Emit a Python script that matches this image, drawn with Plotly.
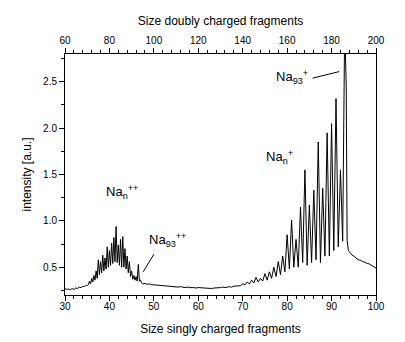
import plotly.graph_objects as go

# ---- data ----
# baseline left of the doubly charged cluster
x_a = [30.0, 30.4, 30.8, 31.2, 31.6, 32.0, 32.4, 32.8, 33.2, 33.6, 34.0, 34.4, 34.8, 35.0]
y_a = [0.27, 0.26, 0.265, 0.255, 0.27, 0.26, 0.275, 0.27, 0.285, 0.28, 0.295, 0.29, 0.31, 0.30]

# doubly charged cluster Na_n++ (valley / peak alternating)
x_b = [35.25, 35.5, 35.75, 36.0, 36.25, 36.5, 36.75, 37.0, 37.25, 37.5, 37.75, 38.0,
       38.25, 38.5, 38.75, 39.0, 39.25, 39.5, 39.75, 40.0, 40.25, 40.5, 40.75, 41.0,
       41.25, 41.5, 41.75, 42.0, 42.25, 42.5, 42.75, 43.0, 43.25, 43.5, 43.75, 44.0,
       44.25, 44.5, 44.75, 45.0, 45.25, 45.5, 45.75, 46.0, 46.25, 46.5, 46.75, 47.0, 47.25]
y_b = [0.31, 0.35, 0.32, 0.38, 0.34, 0.41, 0.36, 0.46, 0.38, 0.58, 0.42, 0.56,
       0.44, 0.63, 0.46, 0.60, 0.48, 0.72, 0.50, 0.68, 0.52, 0.76, 0.54, 0.82,
       0.56, 0.94, 0.55, 0.74, 0.52, 0.80, 0.50, 0.83, 0.50, 0.70, 0.48, 0.62,
       0.44, 0.56, 0.40, 0.46, 0.37, 0.41, 0.36, 0.40, 0.35, 0.53, 0.35, 0.36, 0.33]

# flat region between the two clusters
x_c = [47.5, 48.0, 48.5, 49.0, 49.5, 50.0, 51.0, 51.5, 52.0, 53.0, 53.5, 54.0, 55.0,
       55.5, 56.0, 57.0, 57.5, 58.0, 59.0, 59.5, 60.0, 61.0, 61.5, 62.0, 63.0, 63.5,
       64.0, 65.0, 65.5, 66.0, 67.0, 67.5, 68.0, 69.0]
y_c = [0.32, 0.325, 0.315, 0.32, 0.31, 0.31, 0.305, 0.30, 0.30, 0.295, 0.29, 0.29, 0.29,
       0.285, 0.29, 0.28, 0.285, 0.28, 0.28, 0.275, 0.28, 0.275, 0.27, 0.275, 0.27, 0.275,
       0.275, 0.28, 0.285, 0.28, 0.29, 0.285, 0.295, 0.30]

# singly charged cluster Na_n+ (valley / peak alternating)
x_d = [69.5, 70.0, 70.5, 71.0, 71.5, 72.0, 72.5, 73.0, 73.5, 74.0, 74.5, 75.0,
       75.5, 76.0, 76.5, 77.0, 77.5, 78.0, 78.5, 79.0, 79.5, 80.0, 80.5, 81.0,
       81.5, 82.0, 82.5, 83.0, 83.5, 84.0, 84.5, 85.0, 85.5, 86.0, 86.5, 87.0,
       87.5, 88.0, 88.5, 89.0, 89.5, 90.0, 90.5, 91.0, 91.5, 92.0, 92.5]
y_d = [0.30, 0.32, 0.31, 0.34, 0.32, 0.36, 0.33, 0.39, 0.34, 0.38, 0.35, 0.43,
       0.36, 0.45, 0.38, 0.50, 0.40, 0.56, 0.42, 0.62, 0.45, 0.85, 0.48, 1.01,
       0.50, 0.80, 0.50, 1.15, 0.55, 1.55, 0.52, 1.17, 0.55, 1.33, 0.58, 1.85,
       0.55, 1.35, 0.62, 1.95, 0.62, 2.05, 0.68, 2.32, 0.72, 1.55, 0.78]

# Na93+ peak and tail
x_e = [92.9, 93.1, 93.3, 93.5, 93.8, 94.2, 94.6, 95.0, 95.5, 96.0, 96.5, 97.0,
       97.5, 98.0, 98.5, 99.0, 99.5, 100.0]
y_e = [2.85, 2.85, 2.45, 0.79, 0.68, 0.65, 0.63, 0.62, 0.60, 0.58, 0.575, 0.56,
       0.555, 0.54, 0.535, 0.52, 0.505, 0.49]

x_vals = x_a + x_b + x_c + x_d + x_e
y_vals = y_a + y_b + y_c + y_d + y_e

bottom_ticks = [30, 40, 50, 60, 70, 80, 90, 100]
top_ticks = [60, 80, 100, 120, 140, 160, 180, 200]
y_ticks = [0.5, 1.0, 1.5, 2.0, 2.5]

FONT = "Liberation Sans, Arial, sans-serif"

fig = go.Figure()
fig.add_trace(go.Scatter(x=x_vals, y=y_vals, mode="lines",
                         line=dict(color="black", width=1), hoverinfo="skip",
                         showlegend=False))
# invisible trace to activate the top axis
fig.add_trace(go.Scatter(x=[top_ticks[0], top_ticks[-1]], y=[0.2, 0.2], xaxis="x2",
                         mode="lines", line=dict(width=0), opacity=0,
                         hoverinfo="skip", showlegend=False))

axis_common = dict(showgrid=False, zeroline=False, showline=True, linecolor="black",
                   linewidth=1, ticks="outside", ticklen=5, tickwidth=1,
                   tickcolor="black", tickfont=dict(family=FONT, size=10, color="black"))

fig.update_layout(
    width=405, height=342,
    margin=dict(l=65, r=29, t=54, b=47, autoexpand=False),
    paper_bgcolor="white", plot_bgcolor="white",
    font=dict(family=FONT, color="black"),
    xaxis=dict(range=[30, 100], tickvals=bottom_ticks, ticklabelstandoff=-3, **axis_common,
               minor=dict(dtick=2, tick0=30, ticklen=3, ticks="outside", tickcolor="black"),
               title=dict(text="Size singly charged fragments",
                          font=dict(family=FONT, size=12), standoff=13)),
    xaxis2=dict(range=[60, 200], tickvals=top_ticks, overlaying="x", side="top",
                anchor="y", **axis_common,
                minor=dict(dtick=4, tick0=60, ticklen=3, ticks="outside", tickcolor="black"),
                title=dict(text="Size doubly charged fragments",
                           font=dict(family=FONT, size=12), standoff=6)),
    yaxis=dict(range=[0.2, 2.8], tickvals=y_ticks, ticktext=[f"{v:.1f}" for v in y_ticks],
               mirror=True, **axis_common,
               minor=dict(dtick=0.25, tick0=0.25, ticklen=3, ticks="outside", tickcolor="black"),
               title=dict(text="intensity [a.u.]", font=dict(family=FONT, size=12),
                          standoff=8)),
)

ann_font = dict(family=FONT, size=13, color="black")
labels = [
    (42.8, 1.31, "Na<sub>n</sub><sup>++</sup>"),
    (53.0, 0.79, "Na<sub>93</sub><sup>++</sup>"),
    (78.2, 1.69, "Na<sub>n</sub><sup>+</sup>"),
    (81.1, 2.55, "Na<sub>93</sub><sup>+</sup>"),
]
for lx, ly, txt in labels:
    fig.add_annotation(x=lx, y=ly, text=txt, showarrow=False, font=ann_font,
                       xanchor="center", yanchor="middle")

pointer_x = [(47.6, 50.0), (85.75, 91.7)]
pointer_y = [(0.45, 0.64), (2.54, 2.61)]
for (x0, x1), (y0, y1) in zip(pointer_x, pointer_y):
    fig.add_shape(type="line", x0=x0, x1=x1, y0=y0, y1=y1, xref="x", yref="y",
                  line=dict(color="black", width=1))

fig.write_html("out.html")
